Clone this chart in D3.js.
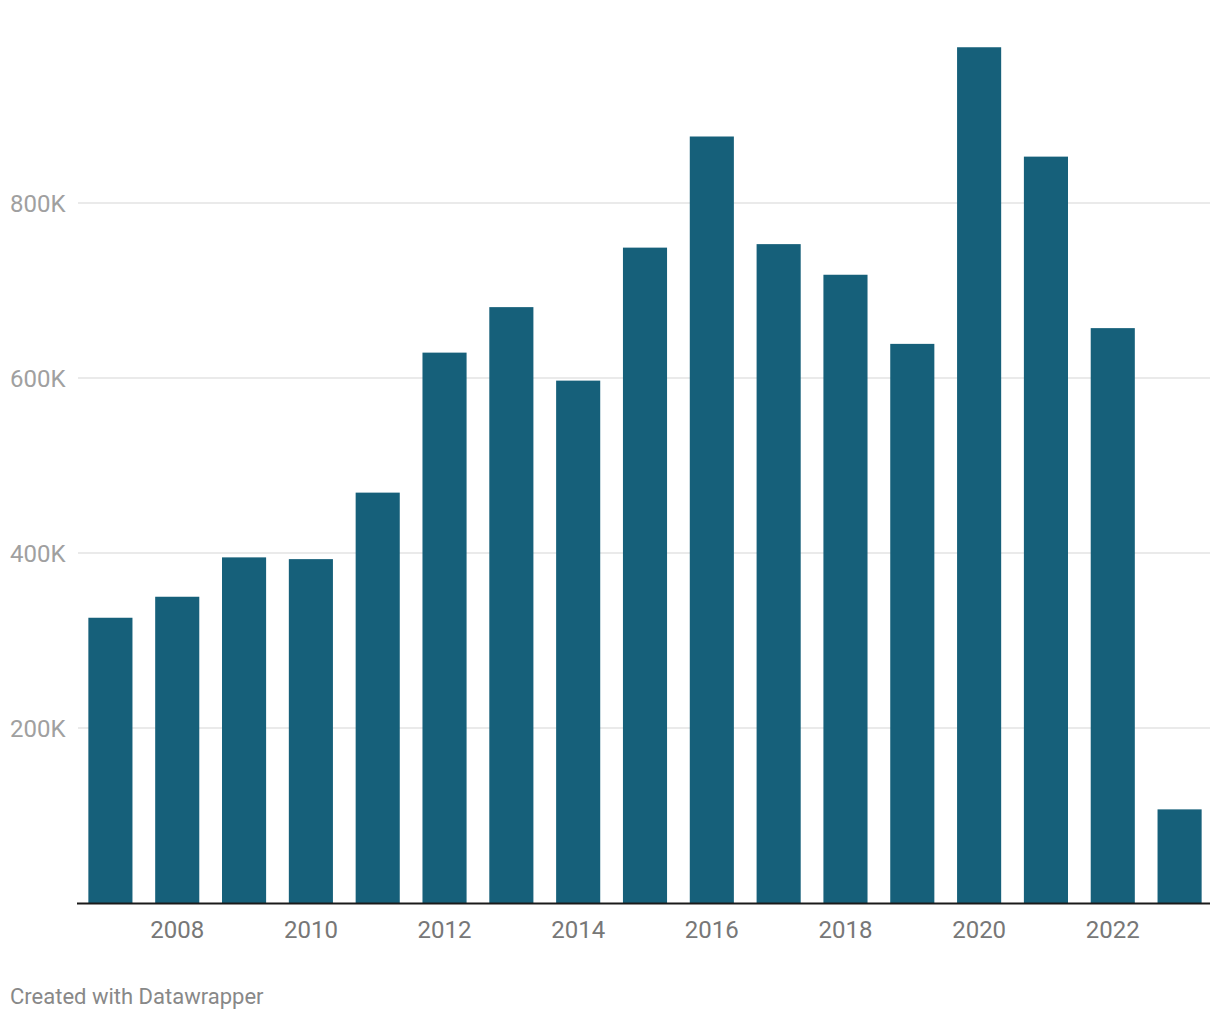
<!DOCTYPE html>
<html>
<head>
<meta charset="utf-8">
<script src="https://cdn.jsdelivr.net/npm/d3@7"></script>
<style>
  body { margin: 0; background: #fff; }
  text { font-family: Roboto, sans-serif; }
</style>
</head>
<body>
<div id="chart"></div>
<script>
var years = [2007, 2008, 2009, 2010, 2011, 2012, 2013, 2014, 2015, 2016, 2017, 2018, 2019, 2020, 2021, 2022, 2023];
var values = [326000, 350000, 395000, 393000, 469000, 629000, 681000, 597000, 749000, 876000, 753000, 718000, 639000, 978000, 853000, 657000, 107000];
var yTicks = [200000, 400000, 600000, 800000];
var xTickYears = [2008, 2010, 2012, 2014, 2016, 2018, 2020, 2022];

var svgWidth = 1220;
var svgHeight = 1020;
var margin = { left: 77, right: 10, top: 28, bottom: 117 };
var baseY = svgHeight - margin.bottom;

var svg = d3.select("#chart")
    .append("svg")
    .attr("width", svgWidth)
    .attr("height", svgHeight);

// bands run a touch past the axis end so the last bar lands like the original
var xScale = d3.scaleBand()
    .domain(years)
    .range([margin.left, svgWidth - margin.right + 3])
    .paddingInner(0.34)
    .paddingOuter(0.17);

var yScale = d3.scaleLinear()
    .domain([0, 1000000])
    .range([baseY, margin.top]);

// gridlines
svg.append("g")
    .selectAll("line")
    .data(yTicks)
    .enter()
    .append("line")
    .attr("x1", 78)
    .attr("x2", svgWidth - margin.right)
    .attr("y1", d => yScale(d))
    .attr("y2", d => yScale(d))
    .attr("stroke", "#e3e3e3")
    .attr("stroke-width", 1.5);

// y labels
svg.append("g")
    .selectAll("text")
    .data(yTicks)
    .enter()
    .append("text")
    .attr("x", 10)
    .attr("y", d => yScale(d))
    .attr("dy", "0.36em")
    .attr("font-size", "24px")
    .attr("fill", "#a0a0a0")
    .text(d => (d / 1000) + "K");

// bars
svg.append("g")
    .selectAll("rect")
    .data(values)
    .enter()
    .append("rect")
    .attr("x", (d, i) => xScale(years[i]))
    .attr("width", xScale.bandwidth())
    .attr("y", d => yScale(d))
    .attr("height", d => baseY - yScale(d))
    .attr("fill", "#16607a");

// x axis
var xAxis = d3.axisBottom(xScale)
    .tickValues(xTickYears)
    .tickSize(0)
    .tickPadding(18);

var xg = svg.append("g")
    .attr("transform", `translate(0, ${baseY})`)
    .call(xAxis);
xg.select(".domain").remove();
xg.selectAll("text")
    .attr("font-family", "Roboto, sans-serif")
    .attr("font-size", "24px")
    .attr("fill", "#777");

svg.append("line")
    .attr("x1", margin.left)
    .attr("x2", svgWidth - margin.right)
    .attr("y1", baseY + 0.5)
    .attr("y2", baseY + 0.5)
    .attr("stroke", "#1a1a1a")
    .attr("stroke-width", 2);

svg.append("text")
    .attr("x", 10)
    .attr("y", 1004)
    .attr("font-size", "22px")
    .attr("fill", "#888")
    .text("Created with Datawrapper");
</script>
</body>
</html>
